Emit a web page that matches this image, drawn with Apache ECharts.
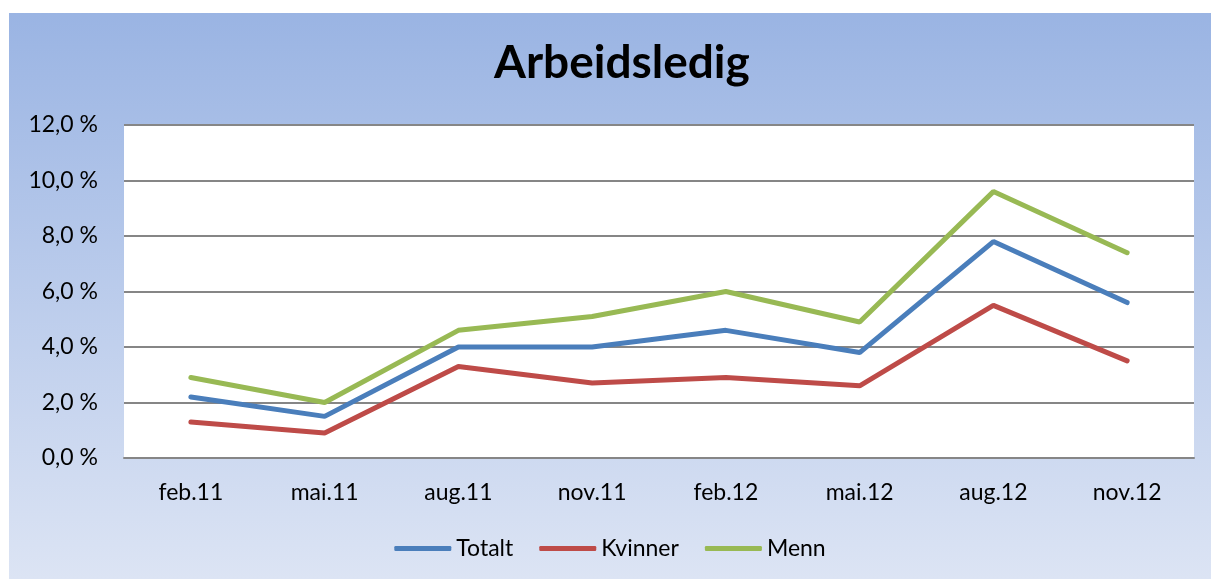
<!DOCTYPE html>
<html>
<head>
<meta charset="utf-8">
<script src="https://cdn.jsdelivr.net/npm/echarts@6/dist/echarts.min.js"></script>
<style>
    html, body { margin: 0; padding: 0; background: #fff; }
    #Arbeidsledig { position: absolute; left: 9px; top: 13px; width: 1202px; height: 566px; }
</style>
</head>
<body>
<div id="Arbeidsledig"></div>
<script>
const categories = ['feb.11', 'mai.11', 'aug.11', 'nov.11', 'feb.12', 'mai.12', 'aug.12', 'nov.12']
const totalt = [2.2, 1.5, 4.0, 4.0, 4.6, 3.8, 7.8, 5.6]
const kvinner = [1.3, 0.9, 3.3, 2.7, 2.9, 2.6, 5.5, 3.5]
const menn = [2.9, 2.0, 4.6, 5.1, 6.0, 4.9, 9.6, 7.4]

const font = 'Lato, "Open Sans", sans-serif'

const lineSeries = (name, data, color) => ({
    name: name,
    type: 'line',
    data: data,
    symbol: 'none',
    color: color,
    lineStyle: { width: 5, color: color, cap: 'round' },
    emphasis: { disabled: true }
})

const option = {
    animation: false,
    backgroundColor: {
        type: 'linear', x: 0, y: 0, x2: 0, y2: 1,
        colorStops: [
            { offset: 0, color: '#9ab4e3' },
            { offset: 1, color: '#dce4f4' }
        ]
    },
    title: {
        text: 'Arbeidsledig',
        left: 480,
        top: 22,
        textStyle: { fontFamily: font, fontSize: 46, fontWeight: 'bold', color: '#000' }
    },
    legend: {
        bottom: 14,
        left: 'center',
        icon: 'roundRect',
        itemWidth: 57,
        itemHeight: 5,
        itemGap: 26,
        textStyle: { fontFamily: font, fontSize: 23, color: '#000' },
        data: ['Totalt', 'Kvinner', 'Menn']
    },
    grid: {
        left: 115,
        right: 17,
        top: 112,
        bottom: 121,
        show: true,
        backgroundColor: '#fff',
        borderWidth: 0
    },
    xAxis: {
        type: 'category',
        data: categories,
        boundaryGap: true,
        axisLine: { show: true, lineStyle: { color: '#868686', width: 2 } },
        axisTick: { show: false },
        axisLabel: { fontFamily: font, fontSize: 23, color: '#000', margin: 23 }
    },
    yAxis: {
        type: 'value',
        min: 0,
        max: 12,
        interval: 2,
        axisLine: { show: false },
        axisTick: { show: false },
        splitLine: { lineStyle: { color: '#868686', width: 2 } },
        axisLabel: {
            fontFamily: font, fontSize: 23, color: '#000', margin: 26,
            formatter: v => v.toFixed(1).replace('.', ',') + ' %'
        }
    },
    series: [
        lineSeries('Totalt', totalt, '#4a7ebb'),
        lineSeries('Kvinner', kvinner, '#be4b48'),
        lineSeries('Menn', menn, '#98b954')
    ]
}

let myChart = echarts.init(document.getElementById('Arbeidsledig'))
myChart.setOption(option)
</script>
</body>
</html>
